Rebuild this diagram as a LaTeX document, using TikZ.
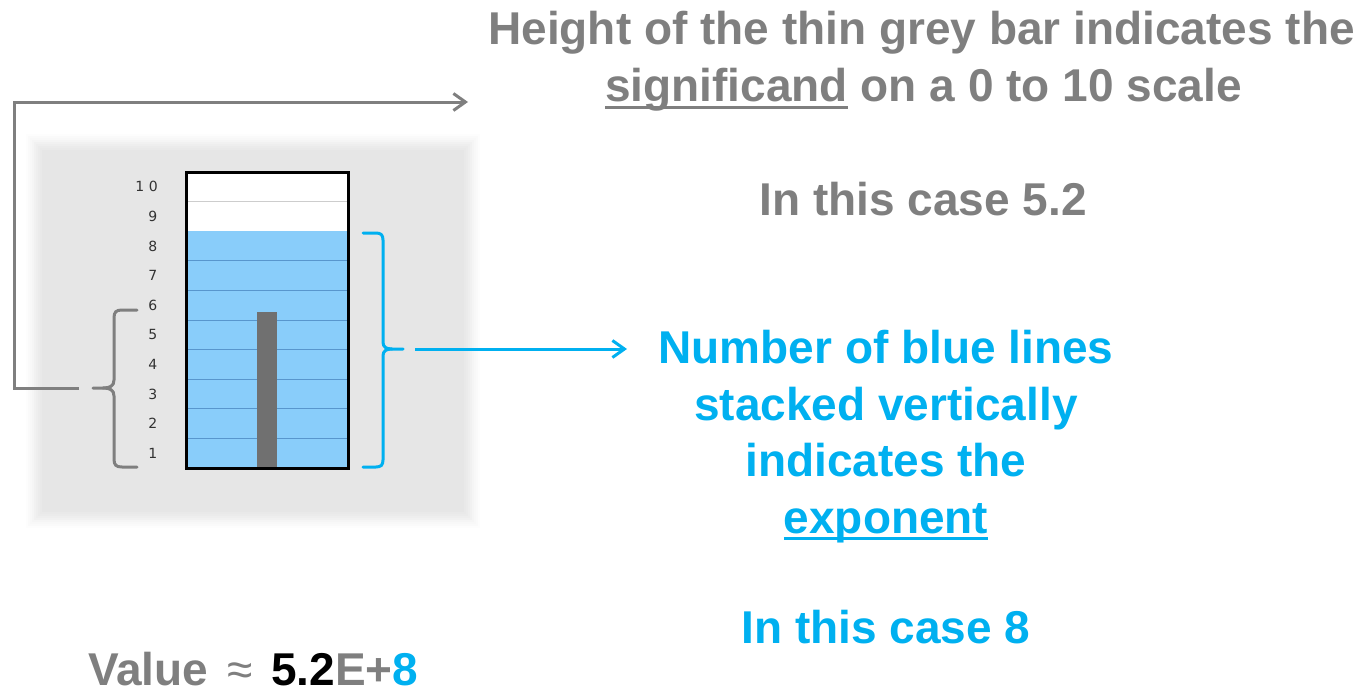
\documentclass[tikz,border=0pt]{standalone}
\usepackage{fontspec}
\setmainfont{Liberation Sans}
\newfontfamily\tickfont{DejaVu Sans}
\usetikzlibrary{arrows.meta}
\definecolor{txtgrey}{RGB}{127,127,127}
\definecolor{cyanblue}{RGB}{0,176,240}
\definecolor{skyfill}{RGB}{137,205,250}
\definecolor{bluerule}{RGB}{88,150,205}
\definecolor{bargrey}{RGB}{112,112,112}
\definecolor{panel}{RGB}{230,230,230}
\definecolor{labelgrey}{RGB}{50,50,50}
\definecolor{ninerule}{RGB}{205,205,205}
\newcommand\myul[1]{\setbox0\hbox{#1}\rlap{\rule[-7pt]{\wd0}{3.2pt}}\box0\relax}
\tikzset{
  bigtxt/.style={font=\fontsize{46}{56.5}\selectfont\bfseries, inner sep=0pt, anchor=base},
  greytxt/.style={bigtxt, text=txtgrey},
  bluetxt/.style={bigtxt, text=cyanblue},
  ticklbl/.style={font=\tickfont\fontsize{14}{15}\selectfont, text=labelgrey, inner sep=0pt, anchor=east},
  greybrace/.style={draw=txtgrey, line width=3pt, line cap=round, line join=round},
  bluebrace/.style={draw=cyanblue, line width=3pt, line cap=round, line join=round},
  greyarrow/.style={draw=txtgrey, line width=3pt, -{Straight Barb[length=12pt,width=17pt,line width=3pt]}},
  bluearrow/.style={draw=cyanblue, line width=3pt, -{Straight Barb[length=12pt,width=17pt,line width=3pt]}},
}
\begin{document}
\begin{tikzpicture}[x=1pt,y=-1pt]
\useasboundingbox (0,0) rectangle (1366,693);
% soft grey panel
\foreach \i/\c in {0/8,1/18,2/30,3/42,4/55,5/68,6/80,7/90,8/100}{
  \fill[panel!\c] (26+2*\i,134+2*\i) rectangle (480-2*\i,528-2*\i);
}
% chart fills
\fill[white] (186,172) rectangle (348,231);
\fill[skyfill] (186,231) rectangle (348,468);
\draw[ninerule, line width=1.2pt] (186,201.6) -- (348,201.6);
\foreach \k in {1,...,7}{
  \draw[bluerule, line width=1pt] (186,468-29.6*\k) -- (348,468-29.6*\k);
}
% significand bar
\node[fill=bargrey, inner sep=0pt, minimum width=20pt, minimum height=156pt, anchor=south] (bar) at (267,468) {};
% chart frame
\node[draw=black, line width=3pt, minimum width=162pt, minimum height=296pt, inner sep=0pt] (box) at (267,320) {};
% tick labels
\node[ticklbl] (t10) at (158,468-29.6*9.5) {1\,\,0};
\foreach \k in {1,...,9}{
  \node[ticklbl] (t\k) at (157.5,468-29.6*\k+14.8) {\k};
}
% left (grey) brace
\draw[greybrace] (137,310) -- (122,310) .. controls (116,310) and (114,312) .. (114,318)
  -- (114,380) .. controls (114,386) and (110,388) .. (103,388) -- (93,388);
\draw[greybrace] (137,467) -- (122,467) .. controls (116,467) and (114,465) .. (114,459)
  -- (114,396) .. controls (114,390) and (110,388) .. (103,388);
\coordinate (gtip) at (79,388);
% right (blue) brace
\draw[bluebrace] (363,233) -- (376,233) .. controls (381,233) and (383,235) .. (383,240)
  -- (383,342) .. controls (383,347) and (386,349) .. (392,349) -- (403,349);
\draw[bluebrace] (363,467) -- (376,467) .. controls (381,467) and (383,465) .. (383,460)
  -- (383,356) .. controls (383,351) and (386,349) .. (392,349);
\coordinate (btip) at (415,349);
% text
\node[greytxt] (h1) at (921.5,45) {Height of the thin grey bar indicates the};
\node[greytxt] (h2) at (923.5,102) {\myul{significand} on a 0 to 10 scale};
\node[greytxt] (h3) at (923,215) {In this case 5.2};
\node[bluetxt] (b1) at (886,363) {Number of blue lines};
\node[bluetxt] (b2) at (886,420) {stacked vertically};
\node[bluetxt] (b3) at (886,476) {indicates the};
\node[bluetxt] (b4) at (886,533) {\myul{exponent}};
\node[bluetxt] (b5) at (886,643) {In this case 8};
\node[greytxt, anchor=base west] (val) at (88,685) {Value\hspace{6pt} {\mdseries ≈}\hspace{6pt} \textcolor{black}{5.2}E+\textcolor{cyanblue}{8}};
% connectors
\coordinate (gend) at (468,102);
\coordinate (bend) at (627,349);
\draw[greyarrow] (gtip) -- (14,388) |- (gend);
\draw[bluearrow] (btip) -- (bend);
\end{tikzpicture}
\end{document}
